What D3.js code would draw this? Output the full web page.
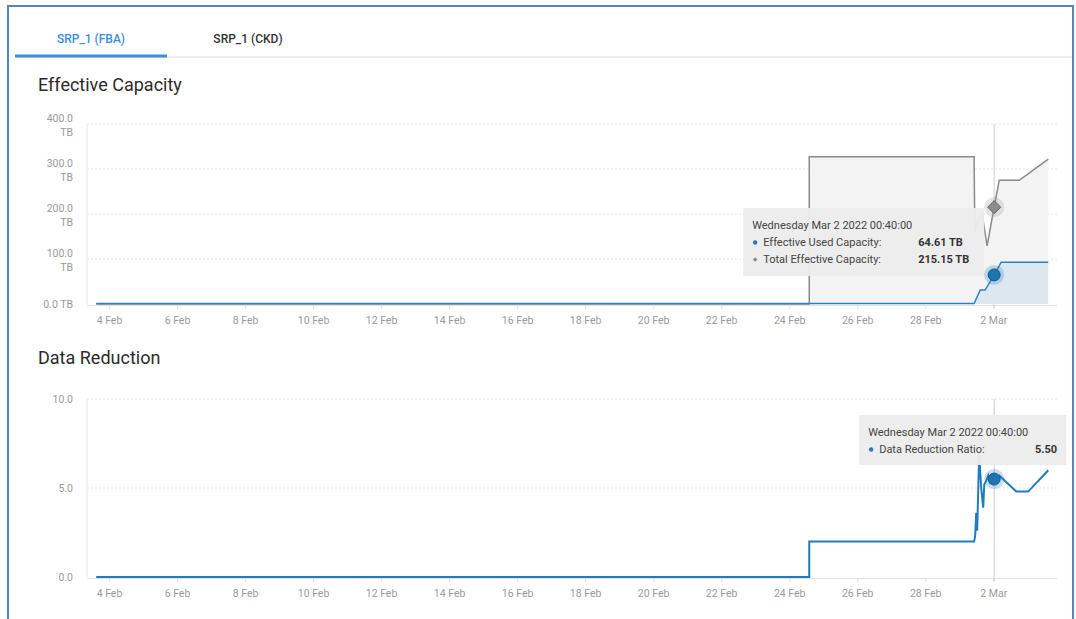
<!DOCTYPE html>
<html>
<head>
<meta charset="utf-8">
<script src="https://cdn.jsdelivr.net/npm/d3@7"></script>
<style>
  body { margin: 0; background: #fff; font-family: Roboto, "Open Sans", sans-serif; }
  .grid line { stroke: #e4e4e4; stroke-dasharray: 2,2; }
  .grid path { display: none; }
  .x-axis path, .x-axis line { stroke: #e2e2e2; }
  .x-axis text, .y-axis text { fill: #9a9a9a; font-size: 10.5px; font-family: Roboto, sans-serif; }
  .y-axis path, .y-axis line { display: none; }
  .title { font-size: 18px; fill: #2b2b2b; }
  .tip-text { font-size: 11px; fill: #444; }
  .tip-val { font-size: 11px; fill: #333; font-weight: bold; }
</style>
</head>
<body>
<div id="chart"></div>
<script>
// tabs and titles
var tabs = ["SRP_1 (FBA)", "SRP_1 (CKD)"];
var panelTitles = ["Effective Capacity", "Data Reduction"];

// axis ticks
var xTickDates = ["2022-02-04", "2022-02-06", "2022-02-08", "2022-02-10", "2022-02-12", "2022-02-14",
  "2022-02-16", "2022-02-18", "2022-02-20", "2022-02-22", "2022-02-24", "2022-02-26",
  "2022-02-28", "2022-03-02"];
var capTicks = [0, 100, 200, 300, 400];
var drrTicks = [0, 5, 10];

// series (date, value)
var totalCapacity = [
  ["2022-02-03T15:00", 0], ["2022-02-24T14:10", 0], ["2022-02-24T14:10", 327],
  ["2022-03-01T10:30", 327], ["2022-03-01T11:00", 160], ["2022-03-01T13:30", 190],
  ["2022-03-01T16:15", 198], ["2022-03-01T19:40", 129], ["2022-03-02T00:40", 215.15],
  ["2022-03-02T04:15", 275], ["2022-03-02T18:20", 275], ["2022-03-03T14:50", 322]
];
var usedCapacity = [
  ["2022-02-03T15:00", 1], ["2022-03-01T10:30", 1], ["2022-03-01T14:50", 31],
  ["2022-03-01T18:15", 31], ["2022-03-02T00:40", 64.61], ["2022-03-02T05:40", 93],
  ["2022-03-03T14:50", 93]
];
var reductionRatio = [
  ["2022-02-03T15:00", 0], ["2022-02-24T14:10", 0], ["2022-02-24T14:10", 2.0],
  ["2022-03-01T10:30", 2.0], ["2022-03-01T11:15", 2.3], ["2022-03-01T12:00", 3.6],
  ["2022-03-01T12:40", 2.6], ["2022-03-01T14:05", 6.9], ["2022-03-01T15:30", 5.0],
  ["2022-03-01T16:55", 3.9], ["2022-03-01T17:40", 5.2], ["2022-03-01T19:00", 5.4],
  ["2022-03-01T20:30", 5.7], ["2022-03-01T21:50", 5.3], ["2022-03-02T00:40", 5.5],
  ["2022-03-02T04:15", 5.7], ["2022-03-02T16:15", 4.8], ["2022-03-03T00:40", 4.8],
  ["2022-03-03T14:50", 6.0]
];

// hovered point
var hoverTime = "2022-03-02T00:40";
var hoverLabel = "Wednesday Mar 2 2022 00:40:00";
var capTipRows = [["Effective Used Capacity:", "64.61 TB"], ["Total Effective Capacity:", "215.15 TB"]];
var drrTipRows = [["Data Reduction Ratio:", "5.50"]];

var parse = d3.timeParse("%Y-%m-%dT%H:%M");
var parseDay = d3.timeParse("%Y-%m-%d");
var toPts = (arr) => arr.map((d) => ({ date: parse(d[0]), value: d[1] }));
var totalPts = toPts(totalCapacity), usedPts = toPts(usedCapacity), drrPts = toPts(reductionRatio);
var hoverDate = parse(hoverTime);

var W = 1076, H = 619;
var svg = d3.select("#chart").append("svg").attr("width", W).attr("height", H);

// outer frame
svg.append("rect").attr("x", 8).attr("y", 6).attr("width", 1065).attr("height", 640)
  .attr("fill", "#fff").attr("stroke", "#5584c0").attr("stroke-width", 2);

// tabs
svg.append("line").attr("x1", 15).attr("x2", 1072).attr("y1", 57).attr("y2", 57)
  .attr("stroke", "#efefef").attr("stroke-width", 2);
svg.append("line").attr("x1", 15).attr("x2", 167).attr("y1", 56).attr("y2", 56)
  .attr("stroke", "#3b8fd8").attr("stroke-width", 3);
svg.selectAll(".tab").data(tabs).enter().append("text")
  .attr("x", (d, i) => [91, 248][i]).attr("y", 43)
  .attr("text-anchor", "middle").style("font-size", "12px").style("font-weight", 500)
  .attr("fill", (d, i) => i === 0 ? "#3b8fd8" : "#333")
  .text((d) => d);

var x = d3.scaleTime()
  .domain([parse("2022-02-03T08:30"), parse("2022-03-03T21:00")])
  .range([87, 1057]);
var xTicks = xTickDates.map(parseDay);

function drawFrame(y, ticks, labelFn, title, titleY) {
  svg.append("text").attr("class", "title").attr("x", 38).attr("y", titleY).text(title);

  var yr = y.range();
  // grid
  svg.append("g").attr("class", "grid")
    .selectAll("line").data(ticks.filter((t) => t > 0)).enter().append("line")
    .attr("x1", 87).attr("x2", 1057).attr("y1", (d) => y(d)).attr("y2", (d) => y(d));
  // left axis line
  svg.append("line").attr("x1", 87).attr("x2", 87).attr("y1", yr[1]).attr("y2", yr[0])
    .attr("stroke", "#e6e6e6");
  // y labels
  var ya = svg.append("g").attr("class", "y-axis").attr("transform", "translate(73,0)")
    .call(d3.axisLeft(y).tickValues(ticks).tickSize(0).tickPadding(0).tickFormat(""));
  ya.selectAll(".tick text").each(function (d) { labelFn(d3.select(this), d); });
  // x axis
  svg.append("g").attr("class", "x-axis").attr("transform", "translate(0," + (yr[0] + 1) + ")")
    .call(d3.axisBottom(x).tickValues(xTicks).tickSize(4).tickPadding(8)
      .tickFormat(d3.timeFormat("%-d %b")))
    .select(".domain").attr("d", "M87,0.5H1057");
  // crosshair
  svg.append("line").attr("x1", x(hoverDate)).attr("x2", x(hoverDate))
    .attr("y1", yr[1]).attr("y2", yr[0] + 4).attr("stroke", "#cfcfcf");
}

// ---- Effective Capacity ----
var yCap = d3.scaleLinear().domain([0, 400]).range([304, 124]);
drawFrame(yCap, capTicks, (t, d) => {
  t.attr("text-anchor", "end");
  if (d === 0) { t.attr("dy", "0.32em").text("0.0 TB"); return; }
  t.attr("dy", null);
  t.append("tspan").attr("x", 0).attr("y", -3).text(d3.format(".1f")(d));
  t.append("tspan").attr("x", 0).attr("y", 11).text("TB");
}, panelTitles[0], 91);

var areaCap = (y) => d3.area().x((d) => x(d.date)).y0(y(0)).y1((d) => y(d.value));
var lineOf = (y) => d3.line().x((d) => x(d.date)).y((d) => y(d.value));

svg.append("path").datum(totalPts).attr("d", areaCap(yCap)).attr("fill", "#f3f3f3");
svg.append("path").datum(usedPts).attr("d", areaCap(yCap)).attr("fill", "#dce7f0");
svg.append("path").datum(totalPts).attr("d", lineOf(yCap))
  .attr("fill", "none").attr("stroke", "#8a8a8a").attr("stroke-width", 1.5);
svg.append("path").datum(usedPts).attr("d", lineOf(yCap))
  .attr("fill", "none").attr("stroke", "#2a84c0").attr("stroke-width", 1.5);

// hover markers
var hx = x(hoverDate);
var hUsed = usedPts.find((d) => +d.date === +hoverDate).value;
var hTotal = totalPts.find((d) => +d.date === +hoverDate).value;
var hDrr = drrPts.find((d) => +d.date === +hoverDate).value;

svg.append("circle").attr("cx", hx).attr("cy", yCap(hTotal)).attr("r", 10).attr("fill", "rgba(150,150,150,0.25)");
svg.append("path").attr("d", d3.symbol(d3.symbolDiamond2, 110)())
  .attr("transform", "translate(" + hx + "," + yCap(hTotal) + ")")
  .attr("fill", "#8c8c8c").attr("stroke", "#666").attr("stroke-width", 1);

// tooltip box
function tooltip(x0, y0, w, h, rows, valX, valAnchor, bulletSym) {
  var g = svg.append("g");
  g.append("rect").attr("x", x0).attr("y", y0).attr("width", w).attr("height", h)
    .attr("fill", "rgba(236,236,236,0.95)");
  g.append("text").attr("class", "tip-text").attr("x", x0 + 9).attr("y", y0 + 21).text(hoverLabel);
  rows.forEach((r, i) => {
    var yy = y0 + 38 + i * 17;
    if (bulletSym[i] === "circle") {
      g.append("circle").attr("cx", x0 + 12).attr("cy", yy - 3.5).attr("r", 2.2).attr("fill", "#1f7dbd");
    } else {
      g.append("path").attr("d", d3.symbol(d3.symbolDiamond2, 14)())
        .attr("transform", "translate(" + (x0 + 12) + "," + (yy - 3.5) + ")").attr("fill", "#8c8c8c");
    }
    g.append("text").attr("class", "tip-text").attr("x", x0 + 20).attr("y", yy).text(r[0]);
    g.append("text").attr("class", "tip-val").attr("x", valX).attr("y", yy)
      .attr("text-anchor", valAnchor).text(r[1]);
  });
}
tooltip(hx - 251, 208, 241, 68, capTipRows, hx - 76, "start", ["circle", "diamond"]);

svg.append("circle").attr("cx", hx).attr("cy", yCap(hUsed)).attr("r", 10).attr("fill", "rgba(31,125,189,0.25)");
svg.append("circle").attr("cx", hx).attr("cy", yCap(hUsed)).attr("r", 6)
  .attr("fill", "#1c74b0").attr("stroke", "#155a8a").attr("stroke-width", 1);

// ---- Data Reduction ----
var yDrr = d3.scaleLinear().domain([0, 10]).range([577, 399]);
drawFrame(yDrr, drrTicks, (t, d) => {
  t.attr("text-anchor", "end").text(d3.format(".1f")(d));
}, panelTitles[1], 364);

svg.append("path").datum(drrPts).attr("d", lineOf(yDrr))
  .attr("fill", "none").attr("stroke", "#1f7dbd").attr("stroke-width", 2);

tooltip(hx - 135, 415, 207, 50, drrTipRows, hx + 63, "end", ["circle"]);

svg.append("circle").attr("cx", hx).attr("cy", yDrr(hDrr)).attr("r", 10).attr("fill", "rgba(31,125,189,0.25)");
svg.append("circle").attr("cx", hx).attr("cy", yDrr(hDrr)).attr("r", 6)
  .attr("fill", "#1c74b0").attr("stroke", "#155a8a").attr("stroke-width", 1);
</script>
</body>
</html>
